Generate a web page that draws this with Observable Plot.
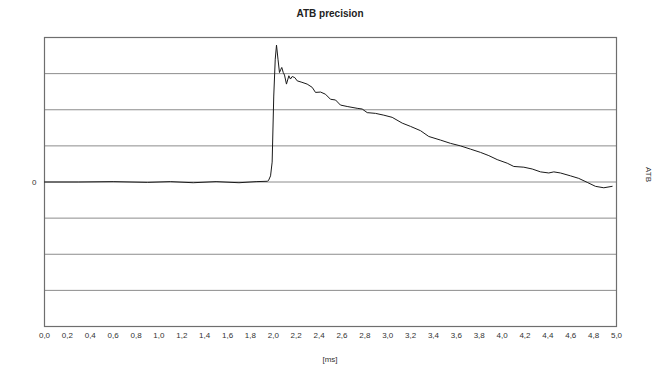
<!DOCTYPE html>
<html>
<head>
<meta charset="utf-8">
<script src="https://cdn.jsdelivr.net/npm/d3@7"></script>
<script src="https://cdn.jsdelivr.net/npm/@observablehq/plot@0.6"></script>
<style>
  body { margin: 0; background: #fff; font-family: "Liberation Sans", Arial, sans-serif; }
  #wrap { width: 660px; height: 372px; position: relative; }
  #title { height: 28px; line-height: 28px; text-align: center; font-weight: bold; font-size: 10px; color: #222; }
  #caption { height: 24px; line-height: 24px; text-align: center; font-size: 8px; color: #333; }
  svg { display: block; }
</style>
</head>
<body>
<div id="wrap">
  <div id="title">ATB precision</div>
  <div id="chart"></div>
  <div id="caption">[ms]</div>
</div>
<script>
// time in ms
const timeMs = [
  0.00, 0.30, 0.60, 0.90, 1.10, 1.30, 1.50, 1.70, 1.85, 1.947, 1.958, 1.976, 1.990, 2.004, 2.017, 2.028,
  2.041, 2.054, 2.066, 2.074, 2.087, 2.098, 2.115, 2.136, 2.150, 2.165, 2.188, 2.209, 2.250, 2.296,
  2.340, 2.369, 2.413, 2.456, 2.500, 2.544, 2.587, 2.646, 2.733, 2.777, 2.821, 2.893, 2.966, 3.039,
  3.127, 3.199, 3.287, 3.359, 3.462, 3.549, 3.636, 3.724, 3.811, 3.884, 3.957, 4.045, 4.102, 4.190,
  4.263, 4.336, 4.408, 4.452, 4.510, 4.598, 4.670, 4.744, 4.816, 4.889, 4.962
];
// ATB value (in grid units)
const atb = [
  0.00, 0.00, 0.01, -0.01, 0.01, -0.02, 0.01, -0.02, 0.01, 0.02, 0.04, 0.17, 0.55, 2.38, 3.40, 3.79,
  3.40, 3.03, 3.12, 3.17, 3.03, 2.96, 2.71, 2.94, 2.85, 2.92, 2.89, 2.80, 2.76, 2.71,
  2.62, 2.48, 2.49, 2.43, 2.29, 2.27, 2.13, 2.09, 2.04, 2.02, 1.92, 1.90, 1.85, 1.79,
  1.63, 1.54, 1.42, 1.26, 1.16, 1.07, 1.00, 0.91, 0.82, 0.73, 0.62, 0.52, 0.43, 0.41,
  0.36, 0.28, 0.25, 0.28, 0.25, 0.17, 0.10, -0.01, -0.12, -0.16, -0.12
];
const xTicks = d3.range(0, 26).map(i => +(i * 0.2).toFixed(1));
const yTicks = [-4, -3, -2, -1, 0, 1, 2, 3, 4];
const yLabels = ["", "", "", "", "0", "", "", "", ""];
const sideLabel = ["ATB"];

const data = timeMs.map((t, i) => ({t, v: atb[i]}));

const chart = Plot.plot({
  width: 660,
  height: 320,
  marginTop: 9,
  marginBottom: 22,
  marginLeft: 44,
  marginRight: 44,
  style: { fontFamily: "Liberation Sans, Arial, sans-serif", fontSize: "8px", color: "#333", background: "#fff" },
  x: { domain: [0, 5], ticks: xTicks, tickFormat: d => d.toFixed(1).replace(".", ","), tickSize: 0, tickPadding: 6, label: null },
  y: { domain: [-4, 4], ticks: yTicks, tickFormat: (d, i) => yLabels[yTicks.indexOf(d)], tickSize: 0, tickPadding: 8, label: null },
  marks: [
    Plot.gridY(yTicks, { stroke: "#8c8c8c", strokeOpacity: 1, strokeWidth: 1 }),
    Plot.frame({ stroke: "#6e6e6e", strokeWidth: 1.2 }),
    Plot.line(data, { x: "t", y: "v", stroke: "#1a1a1a", strokeWidth: 1, curve: "linear" }),
    Plot.text(sideLabel, { frameAnchor: "right", dx: 32, rotate: 90, fontSize: 8, fill: "#333" })
  ]
});
document.getElementById("chart").appendChild(chart);
</script>
</body>
</html>
